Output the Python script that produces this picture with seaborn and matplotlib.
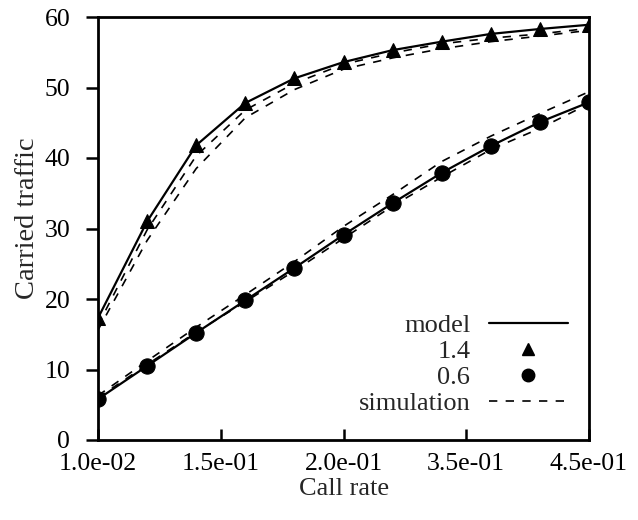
import matplotlib
matplotlib.use("Agg")
import matplotlib.pyplot as plt
from matplotlib.lines import Line2D
import numpy as np
import pandas as pd
import seaborn as sns

# ---- data ----
x_index = list(range(11))
x_tick_pos = [0, 2.5, 5, 7.5, 10]
x_tick_labels = ["1.0e-02", "1.5e-01", "2.0e-01", "3.5e-01", "4.5e-01"]

model_14 = [17.3, 31.0, 41.8, 47.8, 51.3, 53.6, 55.3, 56.5, 57.6, 58.3, 58.9]
model_06 = [5.8, 10.5, 15.2, 19.8, 24.4, 29.1, 33.6, 37.9, 41.7, 45.1, 47.9]
sim_14_hi = [16.3, 29.8, 40.3, 46.8, 50.6, 53.3, 54.9, 56.2, 57.0, 57.6, 58.4]
sim_14_lo = [15.6, 28.3, 38.5, 45.7, 49.7, 52.6, 54.2, 55.5, 56.5, 57.3, 58.1]
sim_06_hi = [6.3, 11.2, 16.0, 20.6, 25.3, 30.3, 34.8, 39.5, 43.1, 46.3, 49.4]
sim_06_lo = [6.0, 10.7, 15.3, 19.6, 24.0, 28.6, 33.2, 37.3, 41.2, 44.2, 47.7]

sns.set_theme(style="white")
plt.rcParams["font.family"] = ["Liberation Serif", "DejaVu Serif"]
FS = 18.5
plt.rcParams["font.size"] = FS

fig = plt.figure(figsize=(6.38, 5.2), dpi=100)
ax = fig.add_axes([98 / 638, 80 / 520, (589 - 98) / 638, (440 - 17) / 520])

dash = (5, 5)
for ys in [sim_14_hi, sim_14_lo, sim_06_hi, sim_06_lo]:
    df = pd.DataFrame({"x": x_index, "y": ys})
    sns.lineplot(data=df, x="x", y="y", ax=ax, color="black", lw=1.2,
                 dashes=False, linestyle=(0, dash), legend=False)

df14 = pd.DataFrame({"x": x_index, "y": model_14})
sns.lineplot(data=df14, x="x", y="y", ax=ax, color="black", lw=1.6,
             marker="^", markersize=10, markeredgecolor="black", legend=False)
df06 = pd.DataFrame({"x": x_index, "y": model_06})
sns.lineplot(data=df06, x="x", y="y", ax=ax, color="black", lw=1.6,
             marker="o", markersize=11, markeredgecolor="black", legend=False)

ax.set_xlim(0, 10)
ax.set_ylim(0, 60)
ax.set_xticks(x_tick_pos)
ax.set_xticklabels(x_tick_labels)
ax.set_yticks([0, 10, 20, 30, 40, 50, 60])
ax.set_xlabel("Call rate", fontsize=19)
ax.set_ylabel("Carried traffic", fontsize=20.5)
# label positions in axes fraction
ax.xaxis.set_label_coords((344 - 98) / 491, -(495 - 440) / 423)
ax.xaxis.label.set_va("baseline")
ax.yaxis.set_label_coords(-(98 - 28) / 491, (440 - 218) / 423)
ax.yaxis.label.set_va("center")

for s in ax.spines.values():
    s.set_visible(True)
    s.set_color("black")
    s.set_linewidth(2.0)

ax.tick_params(axis="x", direction="in", length=8, width=1.8, colors="black",
               labelsize=FS, pad=9, bottom=True)
ax.tick_params(axis="y", direction="out", length=9, width=1.8, colors="black",
               labelsize=FS, pad=11, left=True)
for lab in ax.get_xticklabels() + ax.get_yticklabels():
    lab.set_color("black")

handles = [
    Line2D([], [], color="black", lw=1.6),
    Line2D([], [], color="black", lw=0, marker="^", markersize=8),
    Line2D([], [], color="black", lw=0, marker="o", markersize=9),
    Line2D([], [], color="black", lw=1.2, linestyle=(0, dash)),
]
labels = ["model", "1.4", "0.6", "simulation"]
leg = ax.legend(handles, labels, loc="lower right", bbox_to_anchor=(0.957, 0.058),
                frameon=False, markerfirst=False, fontsize=19, handlelength=3.0,
                handletextpad=0.7, labelspacing=0.1, borderaxespad=0, borderpad=0)
for t in leg.get_texts():
    t.set_ha("right")
leg._legend_box.align = "right"

fig.savefig("out.png", dpi=100)
